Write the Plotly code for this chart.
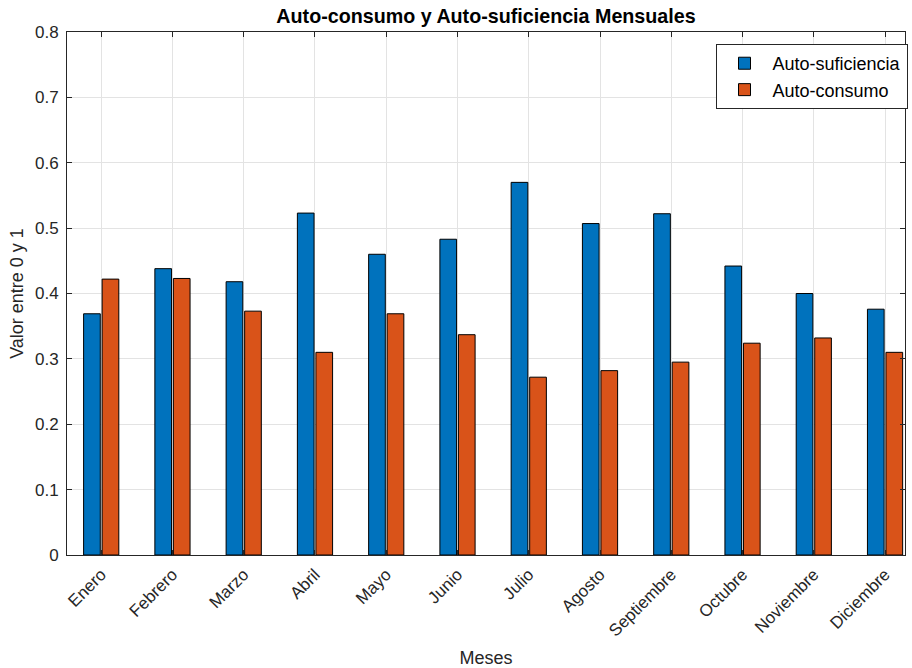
import plotly.graph_objects as go

meses = ["Enero", "Febrero", "Marzo", "Abril", "Mayo", "Junio", "Julio",
         "Agosto", "Septiembre", "Octubre", "Noviembre", "Diciembre"]
auto_suficiencia = [0.369, 0.438, 0.418, 0.523, 0.460, 0.483, 0.570,
                    0.507, 0.522, 0.442, 0.400, 0.376]
auto_consumo = [0.422, 0.423, 0.373, 0.310, 0.369, 0.337, 0.272,
                0.282, 0.295, 0.324, 0.332, 0.310]

x_pos = list(range(1, len(meses) + 1))
FONT = "Arial"
AXC = "#262626"

fig = go.Figure()
fig.add_trace(go.Bar(x=x_pos, y=auto_suficiencia, name="Auto-suficiencia",
                     marker=dict(color="#0072BD", line=dict(color="black", width=1))))
fig.add_trace(go.Bar(x=x_pos, y=auto_consumo, name="Auto-consumo",
                     marker=dict(color="#D95319", line=dict(color="black", width=1))))

fig.update_layout(
    width=912, height=668,
    margin=dict(l=67, r=4, t=32, b=113),
    paper_bgcolor="white", plot_bgcolor="white",
    font=dict(family=FONT, size=17, color=AXC),
    barmode="group", bargap=0.48, bargroupgap=0.1,
    title=dict(text="<b>Auto-consumo y Auto-suficiencia Mensuales</b>",
               x=0.5, xref="paper", xanchor="center", y=0.976, yanchor="middle",
               font=dict(size=19.7, color="black", family=FONT)),
    legend=dict(x=1.003, y=0.977, xanchor="right", yanchor="top",
                bgcolor="white", bordercolor=AXC, borderwidth=1,
                font=dict(size=18, color="black", family=FONT), tracegroupgap=0,
                itemwidth=46),
    showlegend=True,
)

fig.update_xaxes(
    range=[0.52, 12.28], tickmode="array", tickvals=x_pos, ticktext=meses,
    tickangle=-45, tickfont=dict(size=17, color=AXC, family=FONT),
    showgrid=True, gridcolor="#e3e3e3", gridwidth=1,
    showline=True, linecolor=AXC, linewidth=1, mirror="ticks",
    ticks="inside", ticklen=5, tickcolor=AXC, ticklabelstandoff=2,
    title=dict(text="Meses", font=dict(size=18, color=AXC, family=FONT), standoff=12),
    zeroline=False,
)
fig.update_yaxes(
    range=[0, 0.8], tickmode="array",
    tickvals=[0, 0.1, 0.2, 0.3, 0.4, 0.5, 0.6, 0.7, 0.8],
    ticktext=["0", "0.1", "0.2", "0.3", "0.4", "0.5", "0.6", "0.7", "0.8"],
    tickfont=dict(size=17, color=AXC, family=FONT),
    showgrid=True, gridcolor="#e3e3e3", gridwidth=1,
    showline=True, linecolor=AXC, linewidth=1, mirror="ticks",
    ticks="inside", ticklen=5, tickcolor=AXC, ticklabelstandoff=4,
    title=dict(text="Valor entre 0 y 1", font=dict(size=18, color=AXC, family=FONT), standoff=6),
    zeroline=False,
)

fig.write_html("out.html")
